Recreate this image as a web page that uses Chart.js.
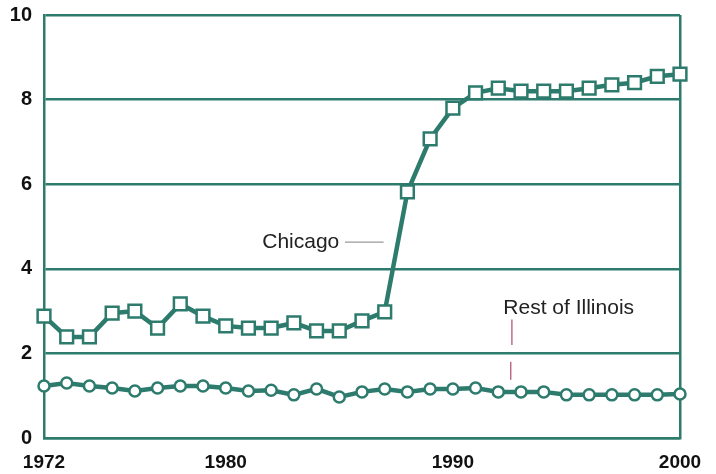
<!DOCTYPE html>
<html>
<head>
<meta charset="utf-8">
<script src="https://cdn.jsdelivr.net/npm/chart.js@4"></script>
<style>
  html, body { margin: 0; padding: 0; background: #fff; }
  #wrap { width: 716px; height: 474px; }
</style>
</head>
<body>
<div id="wrap"><canvas id="chart" width="716" height="474"></canvas></div>
<script>
// Years 1972 - 2000
const years = [1972, 1973, 1974, 1975, 1976, 1977, 1978, 1979, 1980, 1981,
               1982, 1983, 1984, 1985, 1986, 1987, 1988, 1989, 1990, 1991,
               1992, 1993, 1994, 1995, 1996, 1997, 1998, 1999, 2000];

const chicago = [2.88, 2.39, 2.39, 2.95, 3.0, 2.6, 3.17, 2.88, 2.65, 2.6,
                 2.6, 2.72, 2.53, 2.53, 2.77, 2.98, 5.82, 7.07, 7.8, 8.16,
                 8.27, 8.2, 8.2, 8.2, 8.27, 8.35, 8.4, 8.55, 8.6];

const restOfIllinois = [1.23, 1.3, 1.23, 1.18, 1.11, 1.18, 1.23, 1.23, 1.18, 1.11,
                        1.13, 1.02, 1.16, 0.97, 1.09, 1.16, 1.09, 1.16, 1.16, 1.18,
                        1.09, 1.09, 1.09, 1.02, 1.02, 1.02, 1.02, 1.02, 1.04];

const xTicks = [1972, 1980, 1990, 2000];
const yTicks = [0, 2, 4, 6, 8, 10];

const teal = '#2d7b6d';

// labels drawn next to the lines
const notes = {
    id: 'notes',
    afterDatasetsDraw(chart) {
        const c = chart.ctx;
        const x = chart.scales.x, y = chart.scales.y;
        c.save();
        c.font = '21px "Liberation Sans", Arial, sans-serif';
        c.fillStyle = '#222';
        c.textBaseline = 'middle';

        // Chicago
        c.textAlign = 'right';
        c.fillText('Chicago', x.getPixelForValue(1985.0), y.getPixelForValue(4.63));
        c.strokeStyle = '#9a9a9a';
        c.lineWidth = 1.2;
        c.beginPath();
        c.moveTo(x.getPixelForValue(1985.25), y.getPixelForValue(4.63));
        c.lineTo(x.getPixelForValue(1986.95), y.getPixelForValue(4.63));
        c.stroke();

        // Rest of Illinois
        c.textAlign = 'center';
        c.fillText('Rest of Illinois', x.getPixelForValue(1995.1), y.getPixelForValue(3.07));
        c.strokeStyle = '#b04a6a';
        c.lineWidth = 1.2;
        c.beginPath();
        c.moveTo(x.getPixelForValue(1992.6), y.getPixelForValue(2.8));
        c.lineTo(x.getPixelForValue(1992.6), y.getPixelForValue(2.2));
        c.moveTo(x.getPixelForValue(1992.55), y.getPixelForValue(1.8));
        c.lineTo(x.getPixelForValue(1992.55), y.getPixelForValue(1.38));
        c.stroke();
        c.restore();
    }
};

new Chart(document.getElementById('chart').getContext('2d'), {
    type: 'line',
    data: {
        datasets: [
            {
                label: 'Chicago',
                data: years.map((yr, i) => ({ x: yr, y: chicago[i] })),
                borderColor: teal,
                borderWidth: 4.5,
                pointStyle: 'rect',
                pointRadius: 9,
                pointBorderWidth: 2.5,
                pointBackgroundColor: '#fff',
                pointBorderColor: teal,
                tension: 0,
                clip: false
            },
            {
                label: 'Rest of Illinois',
                data: years.map((yr, i) => ({ x: yr, y: restOfIllinois[i] })),
                borderColor: teal,
                borderWidth: 4.5,
                pointStyle: 'circle',
                pointRadius: 5.5,
                pointBorderWidth: 2.5,
                pointBackgroundColor: '#fff',
                pointBorderColor: teal,
                tension: 0,
                clip: false
            }
        ]
    },
    options: {
        responsive: false,
        animation: false,
        layout: { padding: { left: 0, top: 15, right: 36, bottom: 0 } },
        plugins: {
            legend: { display: false },
            tooltip: { enabled: false }
        },
        scales: {
            x: {
                type: 'linear',
                min: 1972,
                max: 2000,
                afterBuildTicks: s => { s.ticks = xTicks.map(v => ({ value: v })); },
                afterFit: s => { s.height = 36; },
                ticks: {
                    color: '#111',
                    font: { family: '"Liberation Sans", Arial, sans-serif', size: 19, weight: 'bold' },
                    padding: 13,
                    maxRotation: 0,
                    autoSkip: false,
                    callback: v => String(v)
                },
                grid: {
                    drawTicks: false,
                    lineWidth: 2.5,
                    color: c => (c.tick && c.tick.value === 2000) ? teal : 'rgba(0,0,0,0)'
                },
                border: { color: teal, width: 2.5 }
            },
            y: {
                min: 0,
                max: 10,
                afterBuildTicks: s => { s.ticks = yTicks.map(v => ({ value: v })); },
                afterFit: s => { s.width = 44; s.paddingTop = 0; s.paddingBottom = 0; },
                ticks: {
                    color: '#111',
                    font: { family: '"Liberation Sans", Arial, sans-serif', size: 20, weight: 'bold' },
                    padding: 12
                },
                grid: {
                    drawTicks: false,
                    lineWidth: 2.5,
                    color: teal
                },
                border: { color: teal, width: 2.5 }
            }
        }
    },
    plugins: [notes]
});
</script>
</body>
</html>
